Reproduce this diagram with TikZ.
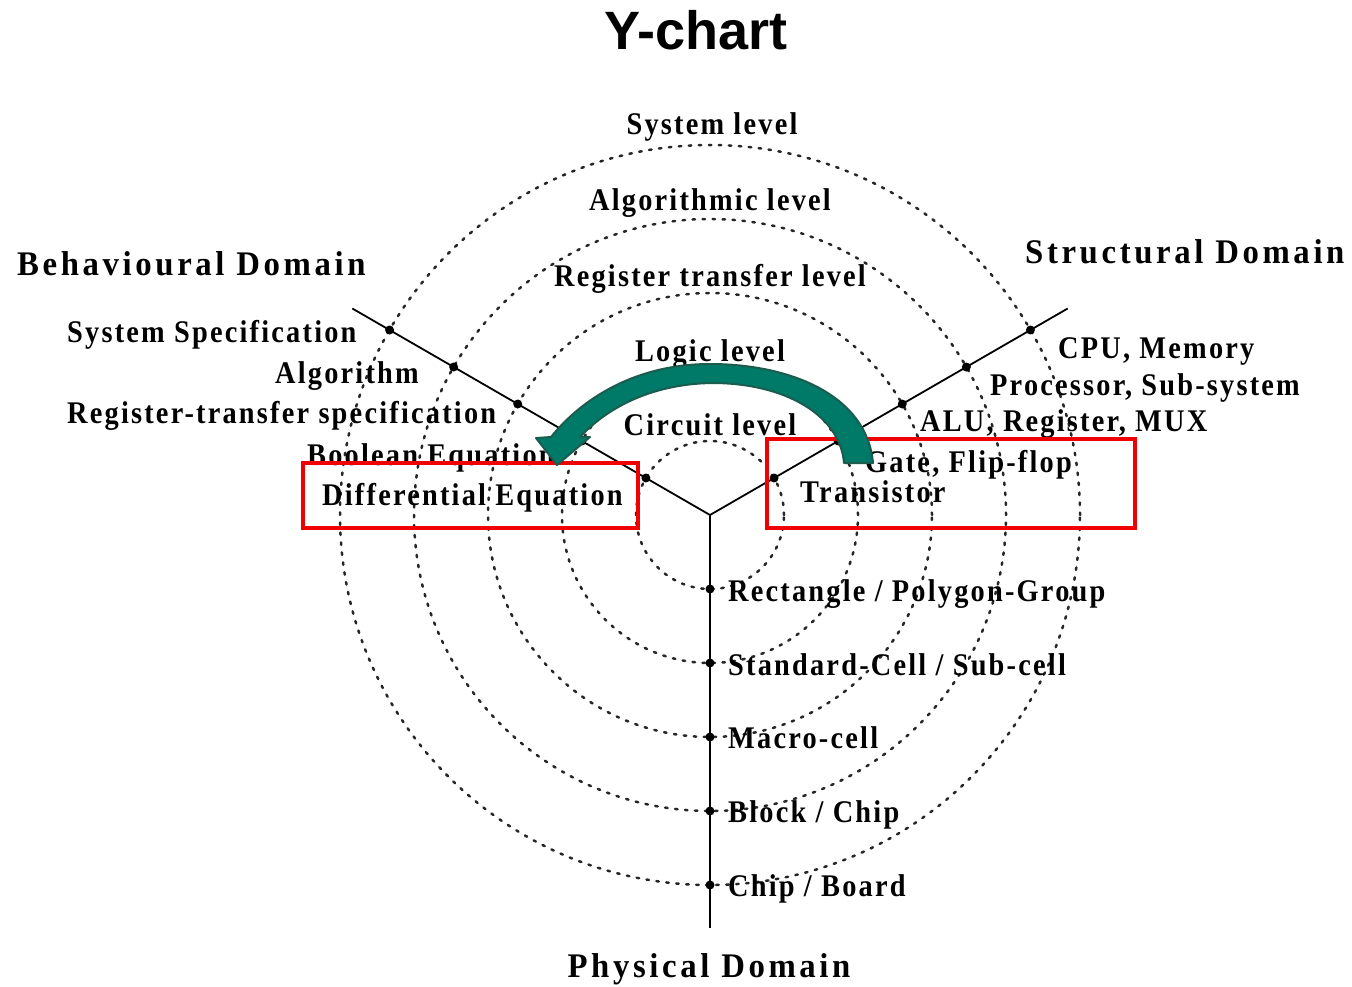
\documentclass[tikz,border=0pt]{standalone}
\usepackage{fontspec}
\usetikzlibrary{calc}
\setmainfont{Liberation Serif}
\newfontfamily\lblfont{Liberation Serif}[LetterSpace=7, FakeStretch=0.9]
\newfontfamily\domfont{Liberation Serif}[LetterSpace=10.5, FakeStretch=0.95]
\newfontfamily\ttlfont{Liberation Sans}
\definecolor{arrowfill}{RGB}{0,122,104}
\definecolor{arrowedge}{RGB}{28,92,78}
\definecolor{hlred}{RGB}{240,0,0}
\tikzset{
  ring/.style={line width=2.5pt, dash pattern=on 2.5pt off 7.5pt, line cap=round, black!85},
  axisline/.style={line width=1.8pt, black},
  axdot/.style={circle, fill=black, inner sep=0pt, minimum size=9pt},
  lbl/.style={font=\lblfont\bfseries\fontsize{31.5}{33}\selectfont, inner sep=0pt},
  domlbl/.style={font=\domfont\bfseries\fontsize{34.5}{37}\selectfont, inner sep=0pt},
  hlbox/.style={draw=hlred, line width=4pt, inner sep=0pt},
  bigarrow/.style={fill=arrowfill, draw=arrowedge, line width=2pt, line join=round}
}
\begin{document}
\begin{tikzpicture}[x=1pt,y=1pt]
\useasboundingbox (0,0) rectangle (1352,-987);

% centre of the Y
\coordinate (C) at (710,-515);

% abstraction levels as concentric dotted rings
\foreach \k in {1,...,5}
  \draw[ring] (C) circle[radius=74*\k];

% the three domain axes
\coordinate (Bend) at ($(C)+(150:413)$);
\coordinate (Send) at ($(C)+(30:413)$);
\coordinate (Pend) at ($(C)+(270:413)$);
\draw[axisline] (C) -- (Bend);
\draw[axisline] (C) -- (Send);
\draw[axisline] (C) -- (Pend);

% level marks on each axis
\foreach \k in {1,...,5}{
  \node[axdot] (b\k) at ($(C)+(150:{74*\k})$) {};
  \node[axdot] (s\k) at ($(C)+(30:{74*\k})$) {};
  \node[axdot] (p\k) at ($(C)+(270:{74*\k})$) {};
}

% title
\node[anchor=base, inner sep=0pt, font=\ttlfont\bfseries\fontsize{54}{58}\selectfont] (title) at (696,-50) {Y-chart};

% level names
\node[lbl, anchor=base] (lv5) at (712,-135) {System level};
\node[lbl, anchor=base] (lv4) at (710,-211) {Algorithmic level};
\node[lbl, anchor=base] (lv3) at (710,-286) {Register transfer level};
\node[lbl, anchor=base] (lv2) at (710,-361) {Logic level};
\node[lbl, anchor=base] (lv1) at (710,-435) {Circuit level};

% domain names
\node[domlbl, anchor=base west] (dB) at (17,-275) {Behavioural Domain};
\node[domlbl, anchor=base west] (dS) at (1025,-263) {Structural Domain};
\node[domlbl, anchor=base] (dP) at (709,-977) {Physical Domain};

% behavioural domain entries
\node[lbl, anchor=base west] (bt5) at (67,-342) {System Specification};
\node[lbl, anchor=base west] (bt4) at (275,-383) {Algorithm};
\node[lbl, anchor=base west] (bt3) at (67,-423) {Register-transfer specification};
\node[lbl, anchor=base west] (bt2) at (307,-465) {Boolean Equation};
\node[lbl, anchor=base west] (bt1) at (322,-505) {Differential Equation};

% structural domain entries
\node[lbl, anchor=base west] (st5) at (1058,-358) {CPU, Memory};
\node[lbl, anchor=base west] (st4) at (990,-395) {Processor, Sub-system};
\node[lbl, anchor=base west] (st3) at (920,-431) {ALU, Register, MUX};
\node[lbl, anchor=base west] (st2) at (865,-472) {Gate, Flip-flop};
\node[lbl, anchor=base west] (st1) at (800,-502) {Transistor};

% physical domain entries
\node[lbl, anchor=base west] (pt1) at (728,-601) {Rectangle / Polygon-Group};
\node[lbl, anchor=base west] (pt2) at (728,-675) {Standard-Cell / Sub-cell};
\node[lbl, anchor=base west] (pt3) at (728,-748) {Macro-cell};
\node[lbl, anchor=base west] (pt4) at (728,-822) {Block / Chip};
\node[lbl, anchor=base west] (pt5) at (728,-896) {Chip / Board};

% highlighted lowest levels
\node[hlbox, minimum width=335pt, minimum height=65pt] (hlB) at (470.5,-495) {};
\node[hlbox, minimum width=368pt, minimum height=89pt] (hlS) at (951,-483.5) {};

% curved arrow from the structural box to the behavioural box
\path[bigarrow]
  (873,-463) .. controls (867,-395) and (790,-364) .. (710,-364)
  .. controls (640,-364) and (585,-395) .. (551,-437)
  -- (536,-438) -- (557,-465) -- (590,-437) -- (580,-437)
  .. controls (610,-405) and (655,-384) .. (712,-383)
  .. controls (785,-383) and (840,-415) .. (844,-463) -- cycle;
\end{tikzpicture}
\end{document}
